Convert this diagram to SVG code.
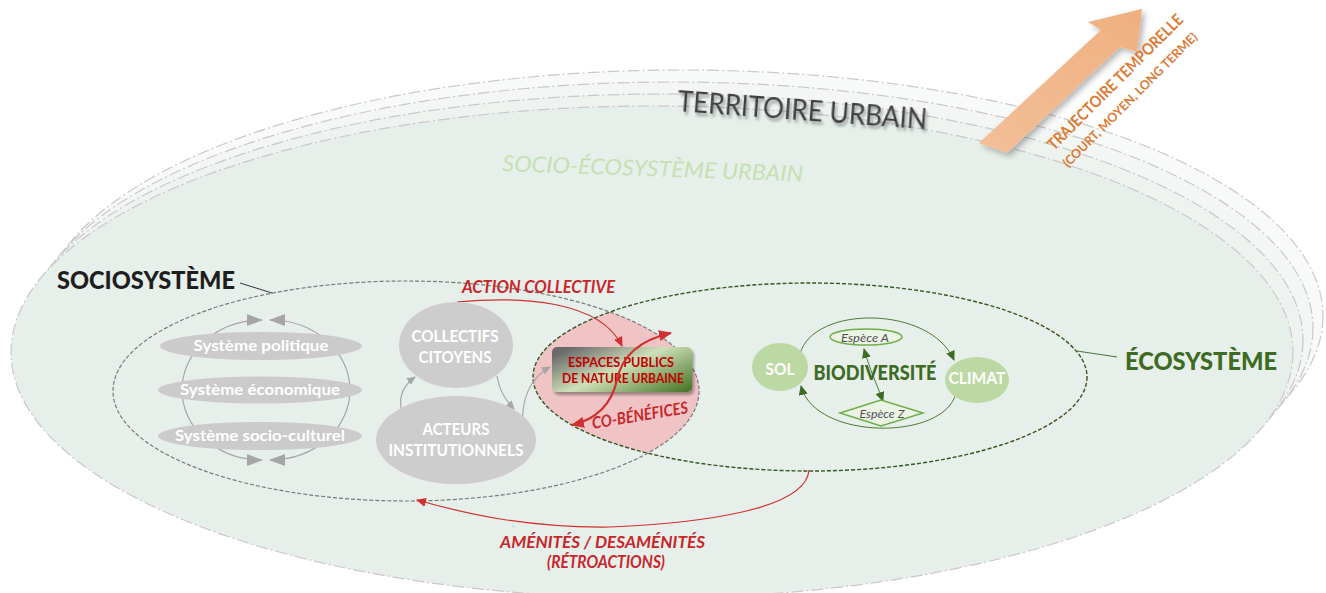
<svg xmlns="http://www.w3.org/2000/svg" width="1326" height="593" viewBox="0 0 1326 593">
<defs>
<style>
.bg{stroke:#c9c9c9;stroke-width:1.2;stroke-dasharray:12 3 2 3;}
.t{font-family:Lato,"Open Sans",sans-serif;}
.sysE{fill:#cbcbcb;}
.sysT{font-family:Lato,"Open Sans",sans-serif;font-weight:bold;font-size:15.5px;fill:#ffffff;text-anchor:middle;}
.gn{fill:#cdcdcd;}
.gnT{font-family:Lato,"Open Sans",sans-serif;font-weight:bold;font-size:17px;fill:#ffffff;text-anchor:middle;}
.red{font-family:Lato,"Open Sans",sans-serif;font-weight:bold;font-style:italic;fill:#c8262b;}
.gA{fill:none;stroke:#a6a6a6;stroke-width:1.2;}
.rA{fill:none;stroke:#d0302f;stroke-width:1.2;}
.eA{fill:none;stroke:#4f7a34;stroke-width:1;}
.grn{fill:#bcd9a3;}
.sp{fill:#ebf3e5;stroke:#70ad47;stroke-width:1.5;}
.spT{font-family:Lato,"Open Sans",sans-serif;font-style:italic;font-size:12px;fill:#505050;text-anchor:middle;}
</style>
<marker id="mBig" markerUnits="userSpaceOnUse" markerWidth="16" markerHeight="12" viewBox="0 0 16 12" refX="15" refY="6" orient="auto-start-reverse"><path d="M0,0 L16,6 L0,12 z" fill="#a6a6a6"/></marker>
<marker id="mG" markerUnits="userSpaceOnUse" markerWidth="9" markerHeight="8" viewBox="0 0 9 8" refX="8" refY="4" orient="auto"><path d="M0,0 L9,4 L0,8 z" fill="#a6a6a6"/></marker>
<marker id="mR" markerUnits="userSpaceOnUse" markerWidth="10" markerHeight="9" viewBox="0 0 10 9" refX="9" refY="4.5" orient="auto-start-reverse"><path d="M0,0 L10,4.5 L0,9 z" fill="#d0302f"/></marker>
<marker id="mR2" markerUnits="userSpaceOnUse" markerWidth="13" markerHeight="11" viewBox="0 0 13 11" refX="12" refY="5.5" orient="auto-start-reverse"><path d="M0,0 L13,5.5 L0,11 z" fill="#d0302f"/></marker>
<marker id="mE" markerUnits="userSpaceOnUse" markerWidth="10" markerHeight="9" viewBox="0 0 10 9" refX="9" refY="4.5" orient="auto-start-reverse"><path d="M0,0 L10,4.5 L0,9 z" fill="#3d6b22"/></marker>
<clipPath id="socClip"><ellipse cx="406" cy="391" rx="293" ry="110"/></clipPath>
<linearGradient id="espG" x1="0" y1="0.2" x2="1" y2="0.9">
<stop offset="0" stop-color="#6a6a6a"/>
<stop offset="0.45" stop-color="#cfe0b9"/>
<stop offset="1" stop-color="#4b7a2a"/>
</linearGradient>
<linearGradient id="orG" x1="0" y1="1" x2="1" y2="0">
<stop offset="0" stop-color="#f2bf98"/>
<stop offset="1" stop-color="#efb080"/>
</linearGradient>
<filter id="sh" x="-20%" y="-20%" width="140%" height="150%"><feDropShadow dx="2" dy="3" stdDeviation="1.5" flood-color="#000" flood-opacity="0.35"/></filter>
<filter id="shA" x="-20%" y="-20%" width="140%" height="140%"><feDropShadow dx="3" dy="3" stdDeviation="3" flood-color="#000" flood-opacity="0.3"/></filter>
</defs>

<g id="territoire">
<ellipse class="bg" cx="682" cy="316" rx="641" ry="246" fill="#f8faf9"/>
<ellipse class="bg" cx="672" cy="328" rx="641" ry="246" fill="#f3f6f4"/>
<ellipse class="bg" cx="662" cy="340" rx="641" ry="246" fill="#eef3f0"/>
<ellipse class="bg" cx="652" cy="352" rx="641" ry="246" fill="#e6efea"/>
<text class="t" transform="translate(677,111) rotate(4.2)" font-size="28" fill="#3f3f3f" textLength="250" lengthAdjust="spacingAndGlyphs" filter="url(#sh)">TERRITOIRE URBAIN</text>
<text class="t" transform="translate(502,171) rotate(2)" font-size="22" font-style="italic" fill="#c6e0b4" textLength="301" lengthAdjust="spacingAndGlyphs">SOCIO-ÉCOSYSTÈME URBAIN</text>
</g>

<g id="trajectoire">
<polygon points="979,143 1101,30 1088,22 1142,9 1137,52 1120,47 1007,153" fill="url(#orG)" filter="url(#shA)"/>
<text class="t" transform="translate(1054,151) rotate(-45)" font-size="16" font-weight="bold" fill="#dc7a33" textLength="184" lengthAdjust="spacingAndGlyphs">TRAJECTOIRE TEMPORELLE</text>
<text class="t" transform="translate(1068,168) rotate(-45)" font-size="12.5" font-weight="bold" fill="#dc7a33" textLength="184" lengthAdjust="spacingAndGlyphs">(COURT, MOYEN, LONG TERME)</text>
</g>

<g id="lens">
<ellipse cx="810" cy="377" rx="277" ry="94" fill="#f0c4c4" clip-path="url(#socClip)"/>
</g>

<g id="sociosysteme">
<ellipse cx="406" cy="391" rx="293" ry="110" fill="none" stroke="#7a7a7a" stroke-width="1.2" stroke-dasharray="4 2"/>
<line x1="240" y1="283" x2="272" y2="293" stroke="#333" stroke-width="1"/>
<text class="t" x="57" y="289" font-size="24" font-weight="900" fill="#1e1e1e" textLength="178" lengthAdjust="spacingAndGlyphs">SOCIOSYSTÈME</text>
</g>

<g id="ecosysteme">
<ellipse cx="810" cy="377" rx="277" ry="94" fill="none" stroke="#375623" stroke-width="1.4" stroke-dasharray="4 2"/>
<line x1="1077" y1="351" x2="1117" y2="357" stroke="#4f6f3a" stroke-width="1"/>
<text class="t" x="1125" y="370" font-size="24" font-weight="900" fill="#3d6b22" textLength="152" lengthAdjust="spacingAndGlyphs">ÉCOSYSTÈME</text>
</g>

<g id="connectors">
<path class="gA" d="M262,320 A80,70 0 0 0 262,460" marker-start="url(#mBig)" marker-end="url(#mBig)"/>
<path class="gA" d="M270,320 A80,70 0 0 1 270,460" marker-start="url(#mBig)" marker-end="url(#mBig)"/>
<path class="gA" d="M401,408 C399,395 404,385 415,377" marker-end="url(#mG)"/>
<path class="gA" d="M497,376 C500,392 505,399 514,409" marker-end="url(#mG)"/>
<path class="gA" d="M523,424 C521,400 530,378 550,367" marker-end="url(#mG)"/>
<path class="rA" d="M457,302 C520,296 600,300 622,346" marker-end="url(#mR)"/>
<path class="rA" d="M809,470 C806,510 700,523 610,527 C530,528 470,515 417,500" marker-end="url(#mR)"/>
<path class="eA" d="M800,354 C813,305 930,305 954,360" marker-end="url(#mE)"/>
<path class="eA" d="M956,393 C945,441 815,441 801,386" marker-end="url(#mE)"/>
<path class="eA" d="M864,349 C870,370 877,385 883,401" marker-start="url(#mE)" marker-end="url(#mE)"/>
</g>

<g id="systeme-politique">
<ellipse class="sysE" cx="261" cy="346" rx="101" ry="14"/>
<text class="sysT" x="261" y="351" textLength="135" lengthAdjust="spacingAndGlyphs">Système politique</text>
</g>
<g id="systeme-economique">
<ellipse class="sysE" cx="260" cy="390" rx="102" ry="13.5"/>
<text class="sysT" x="260" y="395" textLength="160" lengthAdjust="spacingAndGlyphs">Système économique</text>
</g>
<g id="systeme-socioculturel">
<ellipse class="sysE" cx="260" cy="436" rx="102" ry="14"/>
<text class="sysT" x="260" y="441" textLength="170" lengthAdjust="spacingAndGlyphs">Système socio-culturel</text>
</g>

<g id="collectifs">
<ellipse class="gn" cx="456" cy="345" rx="57" ry="43"/>
<text class="gnT" x="455" y="342" textLength="87" lengthAdjust="spacingAndGlyphs">COLLECTIFS</text>
<text class="gnT" x="455" y="363" textLength="73" lengthAdjust="spacingAndGlyphs">CITOYENS</text>
</g>
<g id="acteurs">
<ellipse class="gn" cx="456" cy="440" rx="80" ry="44"/>
<text class="gnT" x="456" y="435" textLength="67" lengthAdjust="spacingAndGlyphs">ACTEURS</text>
<text class="gnT" x="456" y="456" textLength="135" lengthAdjust="spacingAndGlyphs">INSTITUTIONNELS</text>
</g>

<g id="espaces">
<rect x="552" y="347" width="140" height="45" rx="5" fill="url(#espG)" filter="url(#sh)"/>
<text class="t" x="621" y="367" font-size="13.5" font-weight="bold" fill="#c00000" text-anchor="middle" textLength="106" lengthAdjust="spacingAndGlyphs">ESPACES PUBLICS</text>
<text class="t" x="623" y="383" font-size="13.5" font-weight="bold" fill="#c00000" text-anchor="middle" textLength="122" lengthAdjust="spacingAndGlyphs">DE NATURE URBAINE</text>
</g>

<g id="cobenefices">
<path d="M671,333 C640,340 622,355 617,380 C612,402 598,419 572,425" fill="none" stroke="#d0302f" stroke-width="2.2" marker-start="url(#mR2)" marker-end="url(#mR2)"/>
<text class="red" transform="translate(593,429) rotate(-9.5)" font-size="16.5" textLength="97" lengthAdjust="spacingAndGlyphs">CO-BÉNÉFICES</text>
</g>

<g id="action-collective">
<text class="red" x="462" y="293" font-size="16.5" textLength="153" lengthAdjust="spacingAndGlyphs">ACTION COLLECTIVE</text>
</g>

<g id="amenites">
<text class="red" x="500" y="548" font-size="17.5" textLength="205" lengthAdjust="spacingAndGlyphs">AMÉNITÉS / DESAMÉNITÉS</text>
<text class="red" x="547" y="568" font-size="16.5" textLength="118" lengthAdjust="spacingAndGlyphs">(RÉTROACTIONS)</text>
</g>

<g id="sol">
<ellipse class="grn" cx="780" cy="367" rx="28" ry="24"/>
<text class="gnT" x="780" y="375" textLength="29" lengthAdjust="spacingAndGlyphs">SOL</text>
</g>
<g id="climat">
<ellipse class="grn" cx="977" cy="380" rx="32" ry="23"/>
<text class="gnT" x="977" y="384" textLength="57" lengthAdjust="spacingAndGlyphs">CLIMAT</text>
</g>
<g id="biodiversite">
<text class="t" x="875" y="380" font-size="20" font-weight="900" fill="#3d6b22" text-anchor="middle" textLength="123" lengthAdjust="spacingAndGlyphs">BIODIVERSITÉ</text>
</g>
<g id="espece-a">
<ellipse class="sp" cx="866" cy="337" rx="36" ry="8"/>
<text class="spT" x="865" y="341.5" textLength="48" lengthAdjust="spacingAndGlyphs">Espèce A</text>
</g>
<g id="espece-z">
<polygon class="sp" points="840,413 881,400 923,413 881,426"/>
<text class="spT" x="882" y="418" textLength="45" lengthAdjust="spacingAndGlyphs">Espèce Z</text>
</g>
</svg>
